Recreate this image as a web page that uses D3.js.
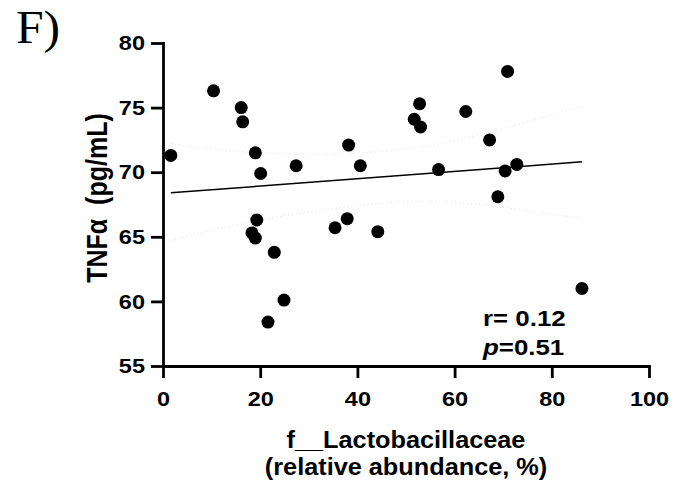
<!DOCTYPE html>
<html>
<head>
<meta charset="utf-8">
<script src="https://cdn.jsdelivr.net/npm/d3@7"></script>
<style>
  body { margin: 0; background: #fff; }
  text { font-family: "Liberation Sans", Arial, sans-serif; font-weight: bold; fill: #000; }
</style>
</head>
<body>
<div id="chart"></div>
<script>
// values
var abundance = [1.6, 10.4, 16.1, 16.4, 19.0, 20.1, 27.4, 38.2, 40.6, 19.3, 18.3, 19.0, 22.9, 24.9, 21.6,
                 35.4, 37.9, 44.2, 70.9, 52.8, 51.7, 53.0, 62.3, 67.2, 56.7, 70.4, 72.8, 68.9, 86.2];
var tnf = [71.3, 76.3, 75.0, 73.9, 71.5, 69.9, 70.5, 72.1, 70.5, 66.3, 65.3, 64.9, 63.8, 60.1, 58.4,
           65.7, 66.4, 65.4, 77.8, 75.3, 74.1, 73.5, 74.7, 72.5, 70.2, 70.1, 70.6, 68.1, 61.0];
var fitX = [1.6, 86.2];
var fitY = [68.4, 70.8];
var bandX = [1.6, 20, 45, 65, 86.2];
var bandUpper = [72.2, 71.5, 71.6, 72.9, 75.1];
var bandLower = [64.7, 66.3, 67.6, 67.5, 66.4];
var xTicks = [0, 20, 40, 60, 80, 100];
var yTicks = [55, 60, 65, 70, 75, 80];

var width = 674, height = 486;
var margin = {top: 43, right: 25, bottom: 120, left: 163};

var svg = d3.select("#chart").append("svg")
  .attr("width", width)
  .attr("height", height);

var x = d3.scaleLinear().domain([0, 100]).range([margin.left, width - margin.right]);
var y = d3.scaleLinear().domain([55, 80]).range([height - margin.bottom, margin.top]);

// text in the picture is a bit wider than Arial, stretch it sideways
function label(px, py, k, size) {
  return svg.append("text")
    .attr("transform", "translate(" + px + "," + py + ") scale(" + k + ",1)")
    .style("font-size", size + "px");
}

// confidence band, very faint dotted
var bandLine = d3.line().curve(d3.curveNatural)
  .x(function(d) { return x(d[0]); })
  .y(function(d) { return y(d[1]); });

[bandUpper, bandLower].forEach(function(b) {
  svg.append("path")
    .datum(bandX.map(function(v, i) { return [v, b[i]]; }))
    .attr("d", bandLine)
    .attr("fill", "none")
    .attr("stroke", "#e0e0e0")
    .attr("stroke-width", 1)
    .attr("stroke-dasharray", "1,3");
});

// regression line
svg.append("line")
  .attr("x1", x(fitX[0])).attr("y1", y(fitY[0]))
  .attr("x2", x(fitX[1])).attr("y2", y(fitY[1]))
  .attr("stroke", "#000")
  .attr("stroke-width", 1.5);

// points
svg.append("g")
  .selectAll("circle")
  .data(abundance)
  .enter()
  .append("circle")
  .attr("cx", function(d) { return x(d); })
  .attr("cy", function(d, i) { return y(tnf[i]); })
  .attr("r", 6.5)
  .style("fill", "#000");

// axes
var xAxis = svg.append("g")
  .attr("transform", "translate(0," + (height - margin.bottom) + ")")
  .call(d3.axisBottom(x).tickValues(xTicks).tickSize(12).tickSizeOuter(0).tickPadding(13));

var yAxis = svg.append("g")
  .attr("transform", "translate(" + margin.left + ",0)")
  .call(d3.axisLeft(y).tickValues(yTicks).tickSize(12).tickSizeOuter(0));

[xAxis, yAxis].forEach(function(a) {
  a.select(".domain").attr("stroke-width", 2.8).attr("stroke-linecap", "square");
  a.selectAll(".tick line").attr("stroke-width", 2.8);
  a.selectAll(".tick text")
    .style("font-family", "Liberation Sans, Arial, sans-serif")
    .style("font-weight", "bold")
    .style("font-size", "21px");
});
xAxis.selectAll(".tick text").attr("transform", "scale(1.12,1)");
yAxis.selectAll(".tick text").attr("x", 0).attr("transform", "translate(-18,0) scale(1.12,1)");

// axis titles
label(x(50), 448, 1.1, 23).attr("text-anchor", "middle").text("f__Lactobacillaceae");
label(x(50), 475, 1.1, 23).attr("text-anchor", "middle").text("(relative abundance, %)");

svg.append("text")
  .attr("transform", "translate(107,198) scale(1.15,1) rotate(-90)")
  .attr("text-anchor", "middle")
  .style("font-size", "25px")
  .style("white-space", "pre")
  .text("TNFα  (pg/mL)");

// stats
label(483, 326, 1.15, 22.5).text("r= 0.12");
var pText = label(483, 355, 1.15, 22.5);
pText.append("tspan").style("font-style", "italic").text("p");
pText.append("tspan").text("=0.51");

// panel letter
label(16, 43, 1.08, 46)
  .style("font-family", "Liberation Serif, Times New Roman, serif")
  .style("font-weight", "normal")
  .text("F)");
</script>
</body>
</html>
